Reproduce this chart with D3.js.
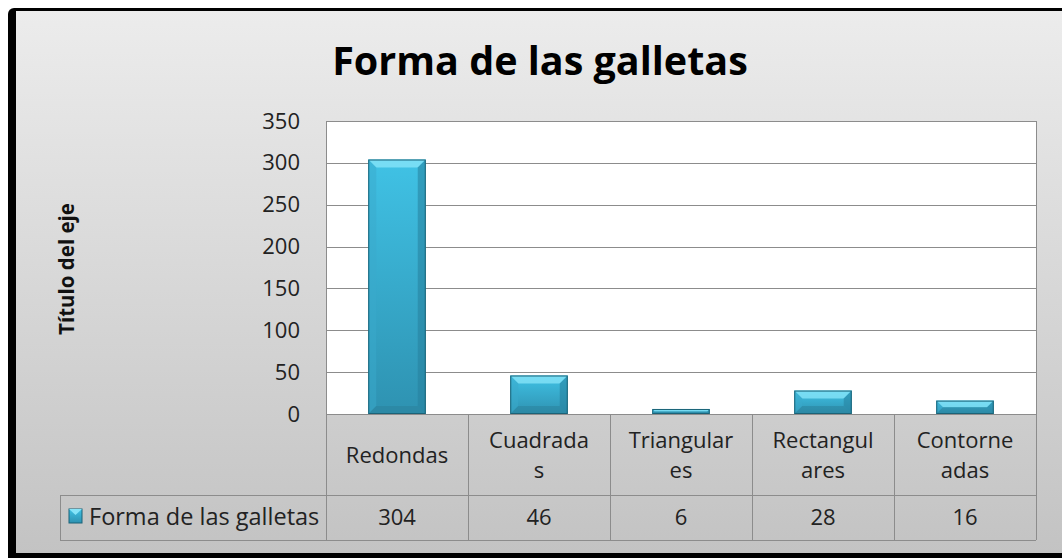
<!DOCTYPE html>
<html>
<head>
<meta charset="utf-8">
<script src="https://cdn.jsdelivr.net/npm/d3@7"></script>
<style>
  body { margin: 0; background: #fff; }
  svg { display: block; font-family: "Open Sans", "Noto Sans", sans-serif; }
</style>
</head>
<body>
<div id="chart"></div>
<script>
let chartTitle = "Forma de las galletas";
let axisTitle = "Título del eje";
let seriesName = "Forma de las galletas";
let categories = ["Redondas", "Cuadradas", "Triangulares", "Rectangulares", "Contorneadas"];
let categoryLines = [["Redondas"], ["Cuadrada", "s"], ["Triangular", "es"], ["Rectangul", "ares"], ["Contorne", "adas"]];
let values = [304, 46, 6, 28, 16];
let yTicks = [0, 50, 100, 150, 200, 250, 300, 350];

let W = 1062, H = 558;
let plot = {left: 326, right: 1036, top: 121, bottom: 414};
let table = {rowMid: 495, bottom: 540, legendLeft: 60};
let fs = 22;

let svg = d3.select("#chart").append("svg")
    .attr("width", W)
    .attr("height", H);

let defs = svg.append("defs");
let bg = defs.append("linearGradient").attr("id", "bg")
    .attr("x1", 0).attr("y1", 0).attr("x2", 0).attr("y2", 1);
bg.append("stop").attr("offset", "0%").attr("stop-color", "#ececec");
bg.append("stop").attr("offset", "100%").attr("stop-color", "#c3c3c3");

let face = defs.append("linearGradient").attr("id", "face")
    .attr("x1", 0).attr("y1", 0).attr("x2", 0).attr("y2", 1);
face.append("stop").attr("offset", "0%").attr("stop-color", "#40c2e5");
face.append("stop").attr("offset", "100%").attr("stop-color", "#2e92b1");

// frame
svg.append("rect")
    .attr("x", 8).attr("y", 8)
    .attr("width", W + 20).attr("height", H + 20)
    .attr("rx", 6)
    .attr("fill", "#000");
svg.append("rect")
    .attr("x", 16).attr("y", 11)
    .attr("width", W).attr("height", 553 - 11)
    .attr("fill", "url(#bg)");

// title
svg.append("text")
    .attr("x", 540).attr("y", 75)
    .attr("text-anchor", "middle")
    .attr("font-size", 39.5)
    .attr("font-weight", "bold")
    .attr("fill", "#000")
    .text(chartTitle);

let x = d3.scaleBand().domain(categories).range([plot.left, plot.right]);
let y = d3.scaleLinear().domain([0, 350]).range([plot.bottom, plot.top]);

// plot area
svg.append("rect")
    .attr("x", plot.left).attr("y", plot.top)
    .attr("width", plot.right - plot.left)
    .attr("height", plot.bottom - plot.top)
    .attr("fill", "#fff");

// gridlines
svg.append("g")
    .attr("class", "grid")
    .attr("transform", `translate(${plot.left},0)`)
    .call(d3.axisLeft(y).tickValues(yTicks).tickSize(-(plot.right - plot.left)).tickFormat(""))
    .call(g => g.select(".domain").remove())
    .call(g => g.selectAll("line").attr("stroke", "#8c8c8c").attr("shape-rendering", "crispEdges"));

// y axis labels
svg.append("g")
    .attr("class", "y-axis")
    .attr("transform", `translate(${plot.left},0)`)
    .call(d3.axisLeft(y).tickValues(yTicks).tickSize(0).tickPadding(26))
    .call(g => g.select(".domain").remove())
    .call(g => g.selectAll("text")
        .attr("font-size", fs)
        .attr("font-family", "Open Sans, sans-serif")
        .attr("fill", "#222"));

svg.append("text")
    .attr("transform", `translate(74,269) rotate(-90)`)
    .attr("text-anchor", "middle")
    .attr("font-size", 20.5)
    .attr("font-weight", "bold")
    .attr("fill", "#111")
    .text(axisTitle);

// bars with bevel
let barW = x.bandwidth() * 0.405;
let bars = svg.append("g").attr("class", "bars")
    .selectAll("g")
    .data(values)
    .enter()
    .append("g");

bars.each(function(v, i) {
    let g = d3.select(this);
    let x0 = x(categories[i]) + (x.bandwidth() - barW) / 2;
    let x1 = x0 + barW;
    let y0 = y(v), y1 = y(0);
    let b = Math.min(8, (y1 - y0) / 2);
    g.append("rect")
        .attr("x", x0).attr("y", y0)
        .attr("width", barW).attr("height", y1 - y0)
        .attr("fill", "url(#face)");
    // top bevel
    g.append("polygon")
        .attr("points", [[x0, y0], [x1, y0], [x1 - b, y0 + b], [x0 + b, y0 + b]].join(" "))
        .attr("fill", "#86e4f8").attr("opacity", 0.8);
    // left bevel
    g.append("polygon")
        .attr("points", [[x0, y0], [x0 + b, y0 + b], [x0 + b, y1 - b], [x0, y1]].join(" "))
        .attr("fill", "#3aa9cb").attr("opacity", 0.5);
    // right bevel
    g.append("polygon")
        .attr("points", [[x1, y0], [x1 - b, y0 + b], [x1 - b, y1 - b], [x1, y1]].join(" "))
        .attr("fill", "#26809d").attr("opacity", 0.55);
    // bottom bevel
    g.append("polygon")
        .attr("points", [[x0, y1], [x1, y1], [x1 - b, y1 - b], [x0 + b, y1 - b]].join(" "))
        .attr("fill", "#2a7f99").attr("opacity", 0.5);
    g.append("rect")
        .attr("x", x0 + 0.5).attr("y", y0 + 0.5)
        .attr("width", barW - 1).attr("height", Math.max(0, y1 - y0 - 1))
        .attr("fill", "none")
        .attr("stroke", "#1b6378").attr("stroke-width", 1);
});

// data table lines
let tl = svg.append("g").attr("class", "table")
    .attr("stroke", "#8c8c8c").attr("shape-rendering", "crispEdges");
tl.append("line").attr("x1", plot.left).attr("x2", plot.left).attr("y1", plot.top).attr("y2", table.bottom);
tl.append("line").attr("x1", plot.right).attr("x2", plot.right).attr("y1", plot.top).attr("y2", table.bottom);
tl.append("line").attr("x1", plot.left).attr("x2", plot.right).attr("y1", plot.bottom).attr("y2", plot.bottom);
tl.append("line").attr("x1", table.legendLeft).attr("x2", plot.right).attr("y1", table.rowMid).attr("y2", table.rowMid);
tl.append("line").attr("x1", table.legendLeft).attr("x2", plot.right).attr("y1", table.bottom).attr("y2", table.bottom);
tl.append("line").attr("x1", table.legendLeft).attr("x2", table.legendLeft).attr("y1", table.rowMid).attr("y2", table.bottom);
tl.selectAll("line.sep")
    .data(categories.slice(1))
    .enter().append("line")
    .attr("class", "sep")
    .attr("x1", d => x(d)).attr("x2", d => x(d))
    .attr("y1", plot.bottom).attr("y2", table.bottom);

// category labels
let catText = svg.append("g").attr("class", "x-labels")
    .selectAll("text")
    .data(categories)
    .enter().append("text")
    .attr("text-anchor", "middle")
    .attr("font-size", fs)
    .attr("fill", "#222");
catText.each(function(d, i) {
    let lines = categoryLines[i];
    let cx = x(d) + x.bandwidth() / 2;
    let startY = lines.length === 1 ? 463 : 448;
    d3.select(this).selectAll("tspan")
        .data(lines)
        .enter().append("tspan")
        .attr("x", cx)
        .attr("y", (l, j) => startY + j * 30)
        .text(l => l);
});

// values row
svg.append("g").attr("class", "values")
    .selectAll("text")
    .data(values)
    .enter().append("text")
    .attr("x", (v, i) => x(categories[i]) + x.bandwidth() / 2)
    .attr("y", 525)
    .attr("text-anchor", "middle")
    .attr("font-size", fs)
    .attr("fill", "#222")
    .text(v => v);

// legend key
let kx = 69, ky = 509, ks = 13;
svg.append("rect")
    .attr("x", kx).attr("y", ky).attr("width", ks).attr("height", ks + 1)
    .attr("fill", "url(#face)").attr("stroke", "#1b6378");
svg.append("polygon")
    .attr("points", [[kx, ky], [kx + ks, ky], [kx + ks / 2, ky + 6]].join(" "))
    .attr("fill", "#86e4f8");
svg.append("text")
    .attr("x", 89).attr("y", 525)
    .attr("font-size", 23.5)
    .attr("fill", "#222")
    .text(seriesName);
</script>
</body>
</html>
